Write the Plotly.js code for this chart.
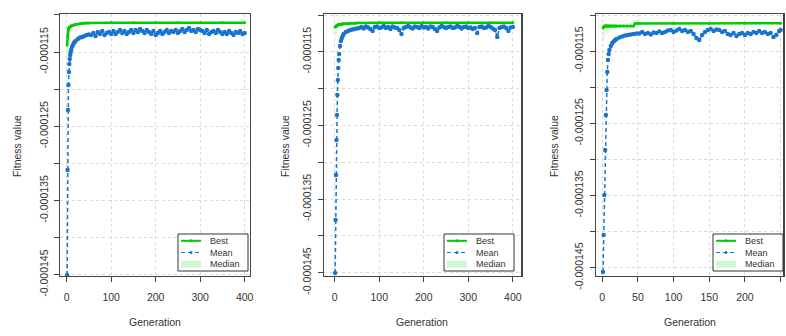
<!DOCTYPE html>
<html><head><meta charset="utf-8">
<script src="https://cdn.plot.ly/plotly-3.0.1.min.js"></script>
<style>html,body{margin:0;padding:0;background:#fff}#chart{width:786px;height:336px}</style>
</head><body><div id="chart"></div>
<script>
// ---------- DATA ----------
// Panel 1 (400 generations)
const gensBest1 = [1,2,3,4,5,6,7,8,9,10,12,14,16,18,20,25,30,35,40,45,50,100,150,200,250,300,350,400];
const best1 = [-0.00011404,-0.00011283,-0.00011216,-0.00011189,-0.00011175,-0.00011168,-0.00011162,-0.00011158,-0.00011152,-0.00011148,
  -0.00011143,-0.00011139,-0.00011135,-0.00011132,-0.00011128,-0.00011123,-0.00011117,-0.00011113,-0.00011111,-0.00011109,-0.00011108,
  -0.00011104,-0.00011104,-0.00011104,-0.00011104,-0.00011104,-0.00011104,-0.00011104];
const median1 = [-0.00012011,-0.00011539,-0.00011364,-0.00011283,-0.00011229,-0.00011202,-0.00011189,-0.00011175,-0.00011168,-0.00011162,
  -0.00011155,-0.00011148,-0.00011142,-0.00011135,-0.00011132,-0.00011125,-0.00011120,-0.00011116,-0.00011113,-0.00011111,-0.00011109,
  -0.00011104,-0.00011104,-0.00011104,-0.00011104,-0.00011104,-0.00011104,-0.00011104];
const gensMean1 = [1,2,3,4,5,6,7,8,9,10,12,14,16,18,20,25,30,35,40,45,50,
  55,60,65,70,75,80,85,90,95,100,105,110,115,120,125,130,135,140,145,150,155,160,165,170,175,180,185,190,195,200,
  205,210,215,220,225,230,235,240,245,250,255,260,265,270,275,280,285,290,295,300,305,310,315,320,325,330,335,340,345,350,
  355,360,365,370,375,380,385,390,395,400];
const mean1 = [-0.00014504,-0.00013089,-0.00012280,-0.00011943,-0.00011768,-0.00011660,-0.00011593,-0.00011539,-0.00011499,-0.00011472,
  -0.00011431,-0.00011404,-0.00011377,-0.00011364,-0.00011350,
  -0.00011323,-0.00011303,-0.00011296,-0.00011283,-0.00011270,-0.00011263,
  -0.00011270,-0.00011243,-0.00011283,-0.00011229,-0.00011256,-0.00011216,-0.00011270,-0.00011243,-0.00011229,-0.00011256,
  -0.00011216,-0.00011256,-0.00011229,-0.00011202,-0.00011243,-0.00011216,-0.00011256,-0.00011229,-0.00011202,-0.00011243,
  -0.00011202,-0.00011229,-0.00011189,-0.00011216,-0.00011243,-0.00011202,-0.00011229,-0.00011256,-0.00011216,-0.00011270,
  -0.00011243,-0.00011216,-0.00011256,-0.00011229,-0.00011202,-0.00011243,-0.00011216,-0.00011229,-0.00011202,-0.00011243,
  -0.00011216,-0.00011189,-0.00011229,-0.00011202,-0.00011175,-0.00011216,-0.00011202,-0.00011229,-0.00011189,-0.00011202,
  -0.00011216,-0.00011243,-0.00011202,-0.00011256,-0.00011229,-0.00011216,-0.00011243,-0.00011202,-0.00011229,-0.00011256,
  -0.00011229,-0.00011256,-0.00011216,-0.00011243,-0.00011270,-0.00011229,-0.00011243,-0.00011216,-0.00011256,-0.00011243];

// Panel 2 (400 generations)
const gensBest2 = [1,2,3,4,5,6,7,8,9,10,12,14,16,18,20,25,30,35,40,45,50,100,150,200,250,300,350,400];
const best2 = [-0.00011163,-0.00011156,-0.00011149,-0.00011145,-0.00011141,-0.00011139,-0.00011136,-0.00011133,-0.00011130,-0.00011129,
  -0.00011126,-0.00011124,-0.00011122,-0.00011121,-0.00011120,-0.00011117,-0.00011114,-0.00011113,-0.00011111,-0.00011110,-0.00011109,
  -0.00011106,-0.00011105,-0.00011105,-0.00011105,-0.00011105,-0.00011105,-0.00011105];
const median2 = [-0.00011340,-0.00011285,-0.00011245,-0.00011217,-0.00011204,-0.00011190,-0.00011181,-0.00011173,-0.00011166,-0.00011160,
  -0.00011152,-0.00011145,-0.00011140,-0.00011136,-0.00011132,-0.00011125,-0.00011120,-0.00011117,-0.00011114,-0.00011111,-0.00011110,
  -0.00011107,-0.00011105,-0.00011105,-0.00011105,-0.00011105,-0.00011105,-0.00011105];
const gensMean2 = [1,2,3,4,5,6,7,8,9,10,12,14,16,18,20,25,30,35,40,45,50,
  55,60,65,70,75,80,85,90,95,100,105,110,115,120,125,130,135,140,145,150,155,160,165,170,175,180,185,190,195,200,
  205,210,215,220,225,230,235,240,245,250,255,260,265,270,275,280,285,290,295,300,305,310,315,320,325,330,335,340,345,350,
  355,360,365,370,375,380,385,390,395,400];
const mean2 = [-0.00014505,-0.00013785,-0.00013174,-0.00012698,-0.00012359,-0.00012087,-0.00011883,-0.00011720,-0.00011611,-0.00011530,
  -0.00011421,-0.00011353,-0.00011313,-0.00011285,-0.00011258,
  -0.00011231,-0.00011217,-0.00011204,-0.00011197,-0.00011190,-0.00011183,
  -0.00011177,-0.00011163,-0.00011183,-0.00011156,-0.00011170,-0.00011190,-0.00011217,-0.00011163,-0.00011156,-0.00011177,
  -0.00011170,-0.00011149,-0.00011177,-0.00011163,-0.00011190,-0.00011156,-0.00011170,-0.00011177,-0.00011204,-0.00011258,
  -0.00011177,-0.00011163,-0.00011149,-0.00011170,-0.00011183,-0.00011156,-0.00011163,-0.00011177,-0.00011149,-0.00011170,
  -0.00011163,-0.00011183,-0.00011156,-0.00011163,-0.00011190,-0.00011217,-0.00011170,-0.00011149,-0.00011163,-0.00011177,
  -0.00011163,-0.00011156,-0.00011177,-0.00011170,-0.00011149,-0.00011163,-0.00011183,-0.00011163,-0.00011156,-0.00011177,
  -0.00011170,-0.00011190,-0.00011177,-0.00011245,-0.00011163,-0.00011156,-0.00011177,-0.00011170,-0.00011149,-0.00011163,
  -0.00011183,-0.00011204,-0.00011299,-0.00011177,-0.00011163,-0.00011156,-0.00011177,-0.00011217,-0.00011170,-0.00011163];

// Panel 3 (250 generations)
const gensBest3 = [1,2,3,4,5,6,7,8,9,10,12,14,16,18,20,25,30,35,40,44,46,50,100,150,200,250];
const best3 = [-0.00011180,-0.00011159,-0.00011152,-0.00011152,-0.00011152,-0.00011152,-0.00011152,-0.00011152,-0.00011152,-0.00011152,
  -0.00011152,-0.00011152,-0.00011152,-0.00011152,-0.00011152,-0.00011152,-0.00011152,-0.00011152,-0.00011152,-0.00011152,
  -0.00011116,-0.00011116,-0.00011115,-0.00011115,-0.00011115,-0.00011115];
const median3 = [-0.00011416,-0.00011346,-0.00011305,-0.00011277,-0.00011263,-0.00011249,-0.00011242,-0.00011235,-0.00011229,-0.00011222,
  -0.00011215,-0.00011208,-0.00011201,-0.00011194,-0.00011190,-0.00011180,-0.00011173,-0.00011166,-0.00011161,-0.00011157,
  -0.00011152,-0.00011132,-0.00011118,-0.00011116,-0.00011116,-0.00011116];
const gensMean3 = [1,2,3,4,5,6,7,8,9,10,12,14,16,18,20,24,28,32,36,40,44,48,
  52,56,60,64,68,72,76,80,84,88,92,96,100,104,108,112,116,120,124,128,
  132,136,140,144,148,152,156,160,164,168,172,176,180,184,188,192,196,200,204,208,
  212,216,220,224,228,232,236,240,244,248,250];
const mean3 = [-0.00014560,-0.00014047,-0.00013493,-0.00012870,-0.00012385,-0.00012039,-0.00011789,-0.00011623,-0.00011540,-0.00011485,
  -0.00011429,-0.00011388,-0.00011367,-0.00011346,-0.00011332,
  -0.00011312,-0.00011298,-0.00011284,-0.00011277,-0.00011270,-0.00011263,-0.00011256,
  -0.00011256,-0.00011235,-0.00011263,-0.00011249,-0.00011270,-0.00011242,-0.00011249,-0.00011229,-0.00011249,-0.00011235,
  -0.00011215,-0.00011208,-0.00011235,-0.00011215,-0.00011194,-0.00011222,-0.00011208,-0.00011235,-0.00011222,-0.00011263,
  -0.00011319,-0.00011346,-0.00011277,-0.00011235,-0.00011208,-0.00011194,-0.00011222,-0.00011201,-0.00011208,-0.00011235,
  -0.00011222,-0.00011263,-0.00011277,-0.00011249,-0.00011291,-0.00011263,-0.00011249,-0.00011277,-0.00011249,-0.00011263,
  -0.00011235,-0.00011249,-0.00011222,-0.00011249,-0.00011235,-0.00011263,-0.00011249,-0.00011305,-0.00011277,-0.00011222,
  -0.00011208];

// Axis ticks and labels
const xTicks12 = [0,100,200,300,400];
const xTicks3 = [0,50,100,150,200,250];
const yTicks = [-0.00011,-0.000115,-0.00012,-0.000125,-0.00013,-0.000135,-0.00014,-0.000145];
const yTickText = ['','-0.000115','','-0.000125','','-0.000135','','-0.000145'];
const seriesNames = ['Best','Mean','Median'];
const xTitle = 'Generation';
const yTitle = 'Fitness value';

// ---------- STYLE / LAYOUT ----------
const W = 786, H = 336;
const BOX_TOP = 14, BOX_BOTTOM = 276;
const GREEN = '#00CD00', BLUE = '#1874CD', FILL = 'rgba(0,205,0,0.13)';
const FONT = 'Liberation Sans, Arial, sans-serif';
const TXT = '#333';
const LEG_FONT = 9;

const panels = [
  {gb: gensBest1, best: best1, med: median1, gm: gensMean1, mean: mean1, box: [60, 250], xr: [-15, 412], xt: xTicks12, yr: [-0.00014518, -0.00010987], legR: 248, ytx: 17},
  {gb: gensBest2, best: best2, med: median2, gm: gensMean2, mean: mean2, box: [323.7, 521.3], xr: [-24.7, 419], xt: xTicks12, yr: [-0.00014546, -0.00010986], legR: 514, ytx: 285},
  {gb: gensBest3, best: best3, med: median3, gm: gensMean3, mean: mean3, box: [595.7, 783.3], xr: [-9.2, 253.8], xt: xTicks3, yr: [-0.00014615, -0.00010986], legR: 783, ytx: 554}
];

const px = x => x / W, py = y => 1 - y / H;

const data = [];
const layout = {
  width: W, height: H, margin: {l: 0, r: 0, t: 0, b: 0},
  paper_bgcolor: '#fff', plot_bgcolor: '#fff', showlegend: false,
  font: {family: FONT, color: TXT, size: 10.5},
  shapes: [], annotations: []
};

panels.forEach((p, i) => {
  const n = i === 0 ? '' : String(i + 1);
  const xa = 'x' + n, ya = 'y' + n;
  data.push({x: p.gb, y: p.best, xaxis: xa, yaxis: ya, type: 'scatter', mode: 'lines+markers', name: seriesNames[0],
    line: {color: GREEN, width: 2.5}, marker: {color: GREEN, size: 3}});
  data.push({x: p.gb, y: p.med, xaxis: xa, yaxis: ya, type: 'scatter', mode: 'lines', name: seriesNames[2],
    line: {color: 'rgba(0,0,0,0)', width: 0}, fill: 'tonexty', fillcolor: FILL});
  data.push({x: p.gm, y: p.mean, xaxis: xa, yaxis: ya, type: 'scatter', mode: 'lines+markers', name: seriesNames[1],
    line: {color: BLUE, width: 1.5, dash: '4px,3px'}, marker: {color: BLUE, size: 4.5}});

  const common = {showline: true, mirror: true, linecolor: '#444', linewidth: 1.2, ticks: 'outside', ticklen: 5,
    tickcolor: '#444', tickwidth: 1, showgrid: true, gridcolor: '#dadada', griddash: 'dot', gridwidth: 1,
    zeroline: false, automargin: false, tickfont: {family: FONT, size: 10.5, color: TXT}};
  layout['xaxis' + n] = Object.assign({}, common, {domain: [px(p.box[0]), px(p.box[1])], range: p.xr,
    tickmode: 'array', tickvals: p.xt, ticktext: p.xt.map(String), anchor: ya, ticklabelstandoff: 6});
  layout['yaxis' + n] = Object.assign({}, common, {domain: [py(BOX_BOTTOM), py(BOX_TOP)], range: p.yr,
    tickmode: 'array', tickvals: yTicks, ticktext: yTickText, tickangle: -90, anchor: xa, ticklabelstandoff: 2});

  // axis titles
  layout.annotations.push({text: xTitle, xref: 'paper', yref: 'paper', x: px((p.box[0] + p.box[1]) / 2), y: py(322),
    xanchor: 'center', yanchor: 'middle', showarrow: false, font: {family: FONT, size: 10.5, color: TXT}});
  layout.annotations.push({text: yTitle, xref: 'paper', yref: 'paper', x: px(p.ytx), y: py(146), textangle: -90,
    xanchor: 'center', yanchor: 'middle', showarrow: false, font: {family: FONT, size: 10.5, color: TXT}});

  // legend box (R-style)
  const L = p.legR - 70, R = p.legR, T = 234, B = 271;
  const mid = (T + B) / 2, gap = LEG_FONT * 1.3;
  const rows = [mid - gap, mid, mid + gap];
  layout.shapes.push({type: 'rect', xref: 'paper', yref: 'paper', x0: px(L), x1: px(R), y0: py(B), y1: py(T),
    line: {color: '#333', width: 1}, fillcolor: '#fff', layer: 'above'});
  const sx0 = L + 3, sx1 = L + 23;
  layout.shapes.push({type: 'line', xref: 'paper', yref: 'paper', x0: px(sx0), x1: px(sx1), y0: py(rows[0]), y1: py(rows[0]),
    line: {color: GREEN, width: 2}, layer: 'above'});
  layout.shapes.push({type: 'circle', xref: 'paper', yref: 'paper', x0: px(sx0 + 8.5), x1: px(sx0 + 11.5), y0: py(rows[0] + 1.5), y1: py(rows[0] - 1.5),
    line: {color: GREEN, width: 0}, fillcolor: GREEN, layer: 'above'});
  layout.shapes.push({type: 'line', xref: 'paper', yref: 'paper', x0: px(sx0), x1: px(sx1), y0: py(rows[1]), y1: py(rows[1]),
    line: {color: BLUE, width: 1.2, dash: '4px,3px'}, layer: 'above'});
  layout.shapes.push({type: 'circle', xref: 'paper', yref: 'paper', x0: px(sx0 + 8.5), x1: px(sx0 + 11.5), y0: py(rows[1] + 1.5), y1: py(rows[1] - 1.5),
    line: {color: BLUE, width: 0}, fillcolor: BLUE, layer: 'above'});
  layout.shapes.push({type: 'rect', xref: 'paper', yref: 'paper', x0: px(sx0), x1: px(sx1), y0: py(rows[2] + 3.5), y1: py(rows[2] - 3.5),
    line: {width: 0}, fillcolor: 'rgba(0,205,0,0.18)', layer: 'above'});
  layout.annotations.push({text: seriesNames.join('<br>'), xref: 'paper', yref: 'paper', x: px(L + 31), y: py(mid),
    xanchor: 'left', yanchor: 'middle', align: 'left', showarrow: false, borderpad: 0,
    font: {family: FONT, size: LEG_FONT, color: TXT}});
});

Plotly.newPlot('chart', data, layout, {displayModeBar: false, staticPlot: true});
</script>
</body></html>
